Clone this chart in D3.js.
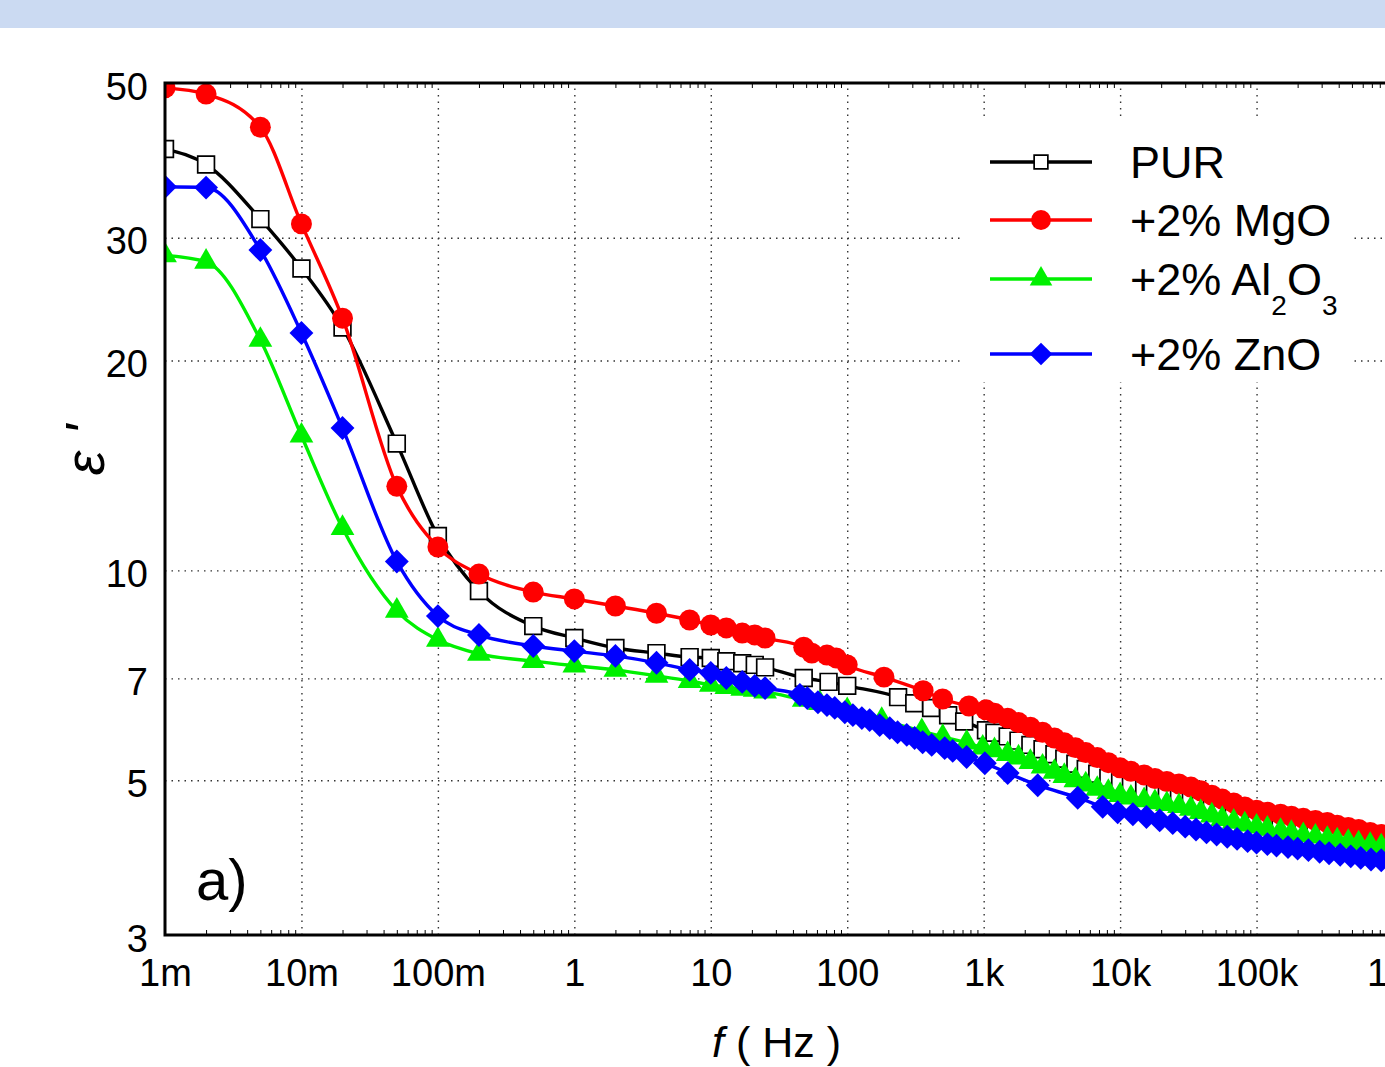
<!DOCTYPE html>
<html lang="en">
<head>
<meta charset="UTF-8" />
<title>Dielectric permittivity vs frequency</title>
<script src="https://d3js.org/d3.v7.min.js"></script>
<style>
  body { margin: 0; background: #fff; font-family: 'Liberation Sans', Arial, sans-serif; }
  svg { display: block; }
  .grid line { stroke: #333; stroke-width: 1.4; stroke-dasharray: 1.5 5; }
  .grid path, .lab path { display: none; }
  .lab text { font-size: 38px; fill: #000; font-family: 'Liberation Sans', Arial, sans-serif; }
  .minor path { display: none; }
  .minor line { stroke: #000; stroke-width: 1; }
</style>
</head>
<body>
<svg id="chart" width="1385" height="1067"></svg>
<script>
// frequencies (Hz) shared by all samples at the low end and at the high end
const freqLow = [0.001, 0.002, 0.005, 0.01, 0.02, 0.05, 0.1, 0.2, 0.5, 1, 2, 4, 7, 10, 13, 17, 21, 25];
const freqHigh = [1200, 1500, 1800, 2200, 2700, 3300, 3900, 4700, 5600, 6800, 8200, 10000,
  12000, 15000, 18000, 22000, 27000, 33000, 39000, 47000, 56000, 68000, 82000, 100000,
  120000, 150000, 180000, 220000, 270000, 330000, 390000, 470000, 560000, 680000, 820000, 1000000];

// PUR
const freqMidPUR = [48, 73, 100, 236, 310, 412, 549, 720, 1040];
const epsPUR = [40.2, 38.2, 31.9, 27.1, 22.3, 15.2, 11.2, 9.34, 8.32, 8.00, 7.74, 7.61, 7.51, 7.49, 7.41, 7.36, 7.32, 7.26,
  7.01, 6.92, 6.83, 6.58, 6.45, 6.35, 6.20, 6.07, 5.90,
  5.85, 5.78, 5.70, 5.62, 5.54, 5.45, 5.37, 5.28, 5.19, 5.11, 5.04, 4.97,
  4.92, 4.86, 4.81, 4.77, 4.72, 4.66, 4.60, 4.55, 4.49, 4.43, 4.38, 4.33,
  4.30, 4.27, 4.25, 4.22, 4.20, 4.18, 4.16, 4.14, 4.12, 4.10, 4.08, 4.06];

// +2% MgO
const freqMidMgO = [48, 55, 71, 83, 100, 186, 360, 500, 780, 1040];
const epsMgO = [49.2, 48.2, 43.2, 31.4, 23.0, 13.2, 10.8, 9.88, 9.31, 9.10, 8.89, 8.68, 8.49, 8.35, 8.27, 8.13, 8.08, 8.00,
  7.76, 7.61, 7.56, 7.49, 7.32, 7.03, 6.72, 6.54, 6.39, 6.31,
  6.24, 6.14, 6.05, 5.96, 5.86, 5.75, 5.66, 5.57, 5.48, 5.39, 5.30, 5.21,
  5.15, 5.09, 5.03, 4.98, 4.94, 4.89, 4.83, 4.76, 4.70, 4.64, 4.58, 4.53,
  4.50, 4.47, 4.44, 4.41, 4.38, 4.35, 4.31, 4.28, 4.25, 4.21, 4.18, 4.15];

// +2% Al2O3
const freqMidAl = [48, 63, 100, 179, 352, 501, 751, 984];
const epsAl = [28.3, 27.7, 21.4, 15.6, 11.5, 8.75, 7.95, 7.59, 7.41, 7.30, 7.20, 7.06, 6.94, 6.85, 6.80, 6.76, 6.74, 6.70,
  6.52, 6.45, 6.30, 6.10, 5.88, 5.77, 5.66, 5.57,
  5.52, 5.45, 5.39, 5.31, 5.23, 5.14, 5.07, 5.00, 4.93, 4.86, 4.81, 4.76,
  4.72, 4.68, 4.65, 4.62, 4.59, 4.55, 4.50, 4.45, 4.40, 4.36, 4.32, 4.29,
  4.26, 4.23, 4.20, 4.17, 4.15, 4.12, 4.10, 4.08, 4.06, 4.04, 4.02, 4.00];

// +2% ZnO (its own frequency list above 25 Hz)
const freqHighZn = [45, 51, 61, 71, 81, 96, 110, 128, 146, 173, 205, 234, 273, 312, 357, 416, 518, 593, 750, 1020,
  1500, 2490, 4890, 7450, 9600, 12400, 15600, 19500, 24300, 30000, 36000, 43000, 51000, 61000, 72000, 86000,
  100000, 120000, 140000, 170000, 200000, 240000, 290000, 340000, 410000, 490000, 580000, 690000, 820000, 980000];
const epsZn = [35.5, 35.4, 28.8, 21.9, 16.0, 10.3, 8.60, 8.08, 7.79, 7.66, 7.54, 7.37, 7.20, 7.13, 7.01, 6.92, 6.83, 6.78,
  6.63, 6.56, 6.47, 6.41, 6.35, 6.26, 6.20, 6.14, 6.10, 6.00, 5.94, 5.86, 5.81, 5.75, 5.67, 5.62, 5.56, 5.51, 5.40, 5.29,
  5.12, 4.92, 4.72, 4.58, 4.50, 4.47, 4.43, 4.38, 4.34, 4.29, 4.25, 4.21, 4.18, 4.15, 4.12, 4.09,
  4.07, 4.05, 4.03, 4.01, 3.99, 3.97, 3.95, 3.93, 3.91, 3.89, 3.87, 3.85, 3.84, 3.82];

const xTicks = [1e-3, 1e-2, 1e-1, 1, 10, 100, 1e3, 1e4, 1e5, 1e6];
const xTickLabels = ["1m", "10m", "100m", "1", "10", "100", "1k", "10k", "100k", "1M"];
const yTicks = [3, 5, 7, 10, 20, 30, 50];
const yGrid = [5, 7, 10, 20, 30];

const series = [
  { name: "PUR", f: freqLow.concat(freqMidPUR, freqHigh), v: epsPUR, color: "#000000", shape: "square" },
  { name: "+2% MgO", f: freqLow.concat(freqMidMgO, freqHigh), v: epsMgO, color: "#ff0000", shape: "circle" },
  { name: "+2% Al2O3", f: freqLow.concat(freqMidAl, freqHigh), v: epsAl, color: "#00f000", shape: "triangle" },
  { name: "+2% ZnO", f: freqLow.concat(freqHighZn), v: epsZn, color: "#0000ff", shape: "diamond" }
];

const pLeft = 165, pRight = 1393, pTop = 83, pBottom = 935;
const x = d3.scaleLog().domain([1e-3, 1e6]).range([pLeft, pRight]);
const y = d3.scaleLog().domain([3, 50]).range([pBottom, pTop]);

const svg = d3.select("#chart");

// light blue band at the top of the page
svg.append("rect").attr("x", 0).attr("y", 0).attr("width", 1385).attr("height", 28).attr("fill", "#cbdaf2");

// dotted grid
svg.append("g").attr("class", "grid")
  .attr("transform", `translate(0,${pBottom})`)
  .call(d3.axisBottom(x).tickValues(xTicks.slice(1)).tickSize(-(pBottom - pTop)).tickFormat(""));
svg.append("g").attr("class", "grid")
  .attr("transform", `translate(${pLeft},0)`)
  .call(d3.axisLeft(y).tickValues(yGrid).tickSize(-(pRight - pLeft)).tickFormat(""));

// legend background hides grid
svg.append("rect").attr("x", 963).attr("y", 118).attr("width", 390).attr("height", 264).attr("fill", "#fff");

// minor ticks
const minor = [];
for (let e = -3; e < 6; e++) for (let m = 2; m <= 9; m++) minor.push(m * Math.pow(10, e));
svg.append("g").attr("class", "minor").attr("transform", `translate(0,${pBottom})`)
  .call(d3.axisBottom(x).tickValues(minor).tickSize(-5).tickFormat(""));
svg.append("g").attr("class", "minor").attr("transform", `translate(0,${pTop})`)
  .call(d3.axisTop(x).tickValues(minor).tickSize(-5).tickFormat(""));

// tick labels
svg.append("g").attr("class", "lab").attr("transform", `translate(0,${pBottom})`)
  .call(d3.axisBottom(x).tickValues(xTicks).tickFormat((d, i) => xTickLabels[i]).tickSize(0).tickPadding(24));
svg.append("g").attr("class", "lab").attr("transform", `translate(${pLeft - 1},4)`)
  .call(d3.axisLeft(y).tickValues(yTicks).tickFormat(d3.format("d")).tickSize(0).tickPadding(16));

// series
svg.append("clipPath").attr("id", "plotClip")
  .append("rect").attr("x", pLeft).attr("y", pTop).attr("width", pRight - pLeft).attr("height", pBottom - pTop);
const plot = svg.append("g").attr("clip-path", "url(#plotClip)");

const line = d3.line().x(d => x(d[0])).y(d => y(d[1])).curve(d3.curveMonotoneX);

function drawMarker(sel, shape, color, scale) {
  const k = scale || 1;
  if (shape === "square") {
    sel.append("path").attr("d", d3.symbol(d3.symbolSquare, 280 * k * k)())
      .attr("fill", "#fff").attr("stroke", "#000").attr("stroke-width", 1.7);
  } else if (shape === "circle") {
    sel.append("path").attr("d", d3.symbol(d3.symbolCircle, 345 * k * k)()).attr("fill", color);
  } else if (shape === "triangle") {
    sel.append("path").attr("d", d3.symbol(d3.symbolTriangle, 245 * k * k)()).attr("fill", color);
  } else {
    sel.append("path").attr("d", d3.symbol(d3.symbolSquare, 285 * k * k)())
      .attr("fill", color).attr("transform", "rotate(45)");
  }
}

series.forEach(s => {
  const pts = s.f.map((f, i) => [f, s.v[i]]);
  const g = plot.append("g");
  g.append("path").datum(pts).attr("d", line)
    .attr("fill", "none").attr("stroke", s.color).attr("stroke-width", 3.4);
  g.selectAll("g.pt").data(pts).enter().append("g").attr("class", "pt")
    .attr("transform", d => `translate(${x(d[0])},${y(d[1])})`)
    .each(function() { drawMarker(d3.select(this), s.shape, s.color); });
});

// frame
svg.append("path")
  .attr("d", `M${pRight + 10},${pTop}H${pLeft}V${pBottom}H${pRight + 10}`)
  .attr("fill", "none").attr("stroke", "#000").attr("stroke-width", 3);

// legend
const legY = [162, 220, 279, 354];
series.forEach((s, i) => {
  const g = svg.append("g").attr("transform", `translate(0,${legY[i]})`);
  g.append("line").attr("x1", 990).attr("x2", 1092).attr("stroke", s.color).attr("stroke-width", 3.5);
  drawMarker(g.append("g").attr("transform", "translate(1041,0)"), s.shape, s.color, s.shape === "square" ? 0.82 : 0.95);
  const t = g.append("text").attr("x", 1130).attr("y", 16).attr("font-size", 45).attr("fill", "#000");
  if (s.name === "+2% Al2O3") {
    t.append("tspan").text("+2% Al");
    t.append("tspan").attr("font-size", 28).attr("dy", 20).text("2");
    t.append("tspan").attr("dy", -20).text("O");
    t.append("tspan").attr("font-size", 28).attr("dy", 20).text("3");
  } else {
    t.text(s.name);
  }
});

// axis titles and panel label
const xt = svg.append("text").attr("x", 712).attr("y", 1057).attr("font-size", 43);
xt.append("tspan").attr("font-style", "italic").text("f");
xt.append("tspan").text(" ( Hz )");

svg.append("text").attr("transform", "translate(104,450) rotate(-90)")
  .attr("text-anchor", "middle").attr("font-size", 56).attr("font-style", "italic")
  .text("ε '");

svg.append("text").attr("x", 196).attr("y", 900).attr("font-size", 58).text("a)");
</script>
</body>
</html>
